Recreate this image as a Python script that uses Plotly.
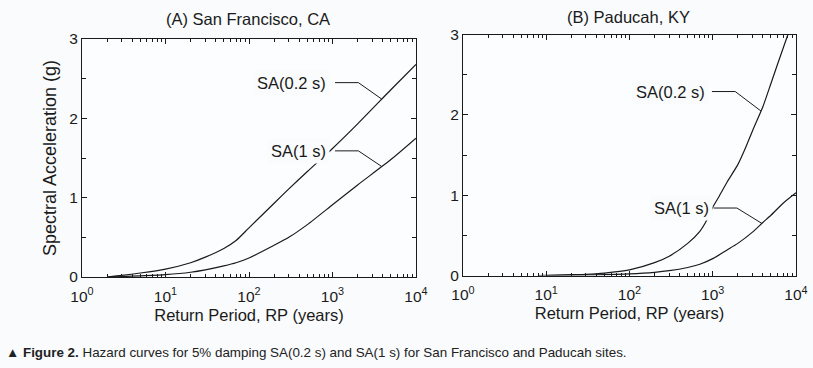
import math
import plotly.graph_objects as go
from plotly.subplots import make_subplots

# ---------------- data ----------------
# (A) San Francisco, CA
rp_sf = [2, 3, 5, 10, 20, 30, 50, 70, 100, 200, 300, 500, 1000, 2000, 5000, 10000]
sa02_sf = [0.0, 0.02, 0.05, 0.10, 0.18, 0.25, 0.36, 0.46, 0.62, 0.93, 1.11, 1.33, 1.62, 1.93, 2.36, 2.68]
sa1_sf = [0.0, 0.005, 0.015, 0.03, 0.06, 0.09, 0.14, 0.18, 0.24, 0.40, 0.50, 0.66, 0.91, 1.16, 1.48, 1.75]

# (B) Paducah, KY
rp_pa02 = [8, 20, 30, 50, 100, 200, 300, 500, 700, 850, 1000, 1200, 1500, 2000, 2500, 3000, 4000, 5000, 6000, 8000]
sa02_pa = [0.0, 0.01, 0.015, 0.03, 0.07, 0.16, 0.24, 0.40, 0.55, 0.69, 0.85, 0.99, 1.17, 1.38, 1.60, 1.80, 2.10, 2.39, 2.63, 3.0]
rp_pa1 = [10, 20, 50, 100, 200, 300, 500, 700, 1000, 1500, 2000, 3000, 4000, 5000, 7000, 10000]
sa1_pa = [0.0, 0.003, 0.01, 0.02, 0.04, 0.06, 0.10, 0.14, 0.21, 0.32, 0.40, 0.54, 0.66, 0.75, 0.90, 1.03]

panel_titles = ["(A) San Francisco, CA", "(B) Paducah, KY"]
series_names = ["SA(0.2 s)", "SA(1 s)"]
x_tickvals = [1, 10, 100, 1000, 10000]
x_ticktext = ["10<sup>0</sup>", "10<sup>1</sup>", "10<sup>2</sup>", "10<sup>3</sup>", "10<sup>4</sup>"]
y_tickvals = [0, 1, 2, 3]
x_title = "Return Period, RP (years)"
y_title = "Spectral Acceleration (g)"
caption = "<b>\u25B2 Figure 2.</b> Hazard curves for 5% damping SA(0.2 s) and SA(1 s) for San Francisco and Paducah sites."

# label placement: (series index, label right-edge RP, label level SA, leader start RP, elbow RP, hit RP)
labels_sf = [(0, 10**2.97, 2.45, 10**3.03, 10**3.31, 10**3.59),
             (1, 10**2.97, 1.59, 10**3.03, 10**3.31, 10**3.59)]
labels_pa = [(0, 10**2.95, 2.29, 10**2.99, 10**3.27, 10**3.58),
             (1, 10**3.0, 0.84, 10**3.01, 10**3.29, 10**3.59)]

# ---------------- figure ----------------
PAPER = "#f9fbfc"
INK = "#1a1a1a"
FONT = "Liberation Sans, Arial, sans-serif"

fig = make_subplots(rows=1, cols=2, horizontal_spacing=0.05)


def interp_log(xs, ys, x):
    lx = math.log10(x)
    for i in range(len(xs) - 1):
        a, b = math.log10(xs[i]), math.log10(xs[i + 1])
        if a <= lx <= b:
            t = (lx - a) / (b - a)
            return ys[i] + t * (ys[i + 1] - ys[i])
    return ys[-1]


panels = [
    (1, [(rp_sf, sa02_sf), (rp_sf, sa1_sf)], labels_sf),
    (2, [(rp_pa02, sa02_pa), (rp_pa1, sa1_pa)], labels_pa),
]

for col, series, labels in panels:
    for (xs, ys), name in zip(series, series_names):
        fig.add_trace(go.Scatter(x=xs, y=ys, mode="lines", name=name,
                                 line=dict(color=INK, width=1.2, shape="spline", smoothing=0.6),
                                 showlegend=False, hoverinfo="skip"), row=1, col=col)
    for si, rp_lab, lev, rp0, rp1, rp_hit in labels:
        xs, ys = series[si]
        hit = interp_log(xs, ys, rp_hit)
        fig.add_trace(go.Scatter(x=[rp0, rp1, rp_hit], y=[lev, lev, hit], mode="lines",
                                 line=dict(color=INK, width=1),
                                 showlegend=False, hoverinfo="skip"), row=1, col=col)
        fig.add_annotation(x=math.log10(rp_lab), y=lev, text=series_names[si],
                           xref=f"x{col if col > 1 else ''}", yref=f"y{col if col > 1 else ''}",
                           xanchor="right", yanchor="middle", showarrow=False,
                           bgcolor=PAPER, borderpad=3,
                           font=dict(size=16.5, color=INK, family=FONT))

minor_x = [m * 10**d for d in range(4) for m in range(2, 10)]

axis_common = dict(showline=True, linecolor=INK, linewidth=1, mirror="ticks",
                   ticks="inside", ticklen=5, tickcolor=INK, showgrid=False, automargin=False,
                   zeroline=False, tickfont=dict(size=15.5, color=INK, family=FONT))

doms_x = [[82 / 813, 416 / 813], [463 / 813, 796 / 813]]
doms_y = [[1 - 277 / 368, 1 - 39 / 368], [1 - 275.5 / 368, 1 - 34.5 / 368]]

for i in range(2):
    sfx = "" if i == 0 else str(i + 1)
    fig.layout["xaxis" + sfx].update(
        type="log", range=[0, 4], tickmode="array", tickvals=x_tickvals, ticktext=x_ticktext,
        domain=doms_x[i], anchor="y" + sfx, ticklabelstandoff=5,
        minor=dict(tickmode="array", tickvals=minor_x, ticks="inside", ticklen=3,
                   tickcolor=INK, showgrid=False),
        title=dict(text=x_title, font=dict(size=16.5, color=INK, family=FONT), standoff=5),
        **axis_common)
    fig.layout["yaxis" + sfx].update(
        range=[0, 3], tickmode="array", tickvals=y_tickvals, domain=doms_y[i], anchor="x" + sfx,
        minor=dict(tickmode="array", tickvals=[0.5, 1.5, 2.5], ticks="inside", ticklen=4,
                   tickcolor=INK, showgrid=False),
        **axis_common)

fig.layout.yaxis.title = dict(text=y_title, font=dict(size=18, color=INK, family=FONT), standoff=7)

# panel titles
fig.add_annotation(x=248 / 813, y=1 - 19 / 368, xref="paper", yref="paper", text=panel_titles[0],
                   showarrow=False, xanchor="center", yanchor="middle",
                   font=dict(size=16.5, color=INK, family=FONT))
fig.add_annotation(x=628 / 813, y=1 - 17 / 368, xref="paper", yref="paper", text=panel_titles[1],
                   showarrow=False, xanchor="center", yanchor="middle",
                   font=dict(size=16.5, color=INK, family=FONT))

# caption
fig.add_annotation(x=4 / 813, y=1 - 352 / 368, xref="paper", yref="paper", text=caption,
                   showarrow=False, xanchor="left", yanchor="middle",
                   font=dict(size=13.4, color="#222222", family=FONT))

fig.update_layout(width=813, height=368, margin=dict(l=0, r=0, t=0, b=0),
                  paper_bgcolor=PAPER, plot_bgcolor="#fcfdfe", showlegend=False)

fig.write_html("out.html", config={"displayModeBar": False},
               post_script="document.body.style.margin='0px';document.body.style.padding='0px';"
                           "document.body.style.background='" + PAPER + "';")
